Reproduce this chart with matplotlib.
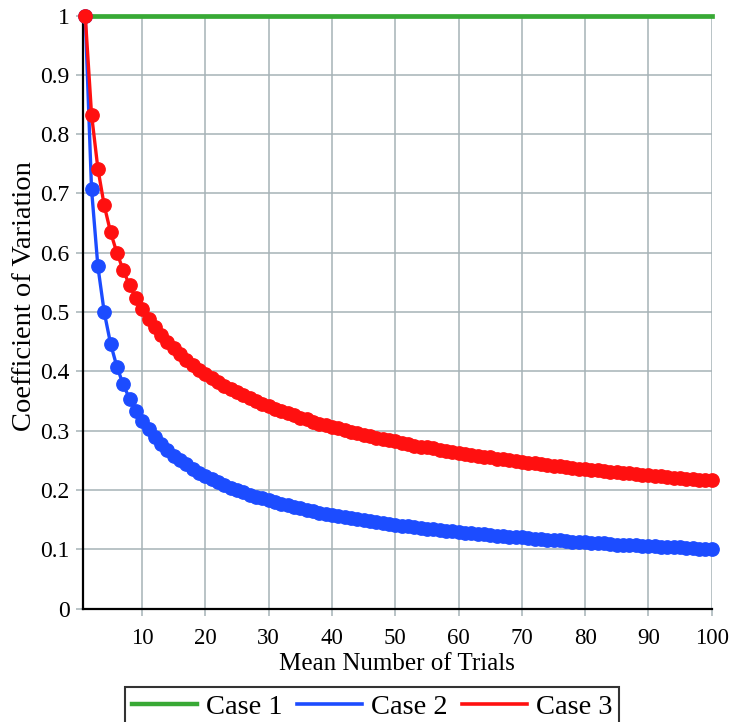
import numpy as np
import matplotlib.pyplot as plt

# ── Data ──────────────────────────────────────────────────────────────────
mean_trials = list(range(1, 101))

case1_cv = [1.0] * 100

case2_cv = [
    1.000, 0.707, 0.577, 0.500, 0.447, 0.408, 0.378, 0.354, 0.333, 0.316,
    0.302, 0.289, 0.277, 0.267, 0.258, 0.250, 0.243, 0.236, 0.229, 0.224,
    0.218, 0.213, 0.209, 0.204, 0.200, 0.196, 0.192, 0.189, 0.186, 0.183,
    0.180, 0.177, 0.174, 0.171, 0.169, 0.167, 0.164, 0.162, 0.160, 0.158,
    0.156, 0.154, 0.152, 0.151, 0.149, 0.147, 0.146, 0.144, 0.143, 0.141,
    0.140, 0.139, 0.137, 0.136, 0.135, 0.134, 0.132, 0.131, 0.130, 0.129,
    0.128, 0.127, 0.126, 0.125, 0.124, 0.123, 0.122, 0.121, 0.120, 0.120,
    0.119, 0.118, 0.117, 0.116, 0.115, 0.115, 0.114, 0.113, 0.113, 0.112,
    0.111, 0.110, 0.110, 0.109, 0.108, 0.108, 0.107, 0.107, 0.106, 0.105,
    0.105, 0.104, 0.104, 0.103, 0.103, 0.102, 0.102, 0.101, 0.101, 0.100,
]

case3_cv = [
    1.000, 0.833, 0.742, 0.680, 0.635, 0.600, 0.571, 0.545, 0.524, 0.506,
    0.489, 0.475, 0.462, 0.450, 0.439, 0.429, 0.420, 0.411, 0.403, 0.396,
    0.389, 0.382, 0.376, 0.370, 0.365, 0.360, 0.355, 0.350, 0.345, 0.341,
    0.337, 0.333, 0.329, 0.326, 0.322, 0.319, 0.315, 0.312, 0.309, 0.306,
    0.304, 0.301, 0.298, 0.296, 0.293, 0.291, 0.288, 0.286, 0.284, 0.282,
    0.279, 0.277, 0.275, 0.273, 0.272, 0.270, 0.268, 0.266, 0.264, 0.263,
    0.261, 0.259, 0.258, 0.256, 0.255, 0.253, 0.252, 0.250, 0.249, 0.248,
    0.246, 0.245, 0.244, 0.242, 0.241, 0.240, 0.239, 0.237, 0.236, 0.235,
    0.234, 0.233, 0.232, 0.231, 0.230, 0.229, 0.228, 0.227, 0.226, 0.225,
    0.224, 0.223, 0.222, 0.221, 0.220, 0.219, 0.218, 0.217, 0.216, 0.216,
]

series_labels = ["Case 1", "Case 2", "Case 3"]
x_ticks = [10, 20, 30, 40, 50, 60, 70, 80, 90, 100]
y_ticks = [0, 0.1, 0.2, 0.3, 0.4, 0.5, 0.6, 0.7, 0.8, 0.9, 1.0]

# ── Style ─────────────────────────────────────────────────────────────────
plt.rcParams["font.family"] = ["Liberation Serif", "DejaVu Serif"]
green = "#38a935"
blue = "#1c4cff"
red = "#ff1010"
grid_color = "#a6b3b7"

fig = plt.figure(figsize=(7.37, 7.22), dpi=100)
ax = fig.add_axes([0.1122, 0.1571, 0.8535, 0.8213])

ax.plot(mean_trials, case1_cv, color=green, lw=3.4, clip_on=False,
        label=series_labels[0], zorder=3)
ax.plot(mean_trials, case2_cv, color=blue, lw=2.4, marker="o", ms=9.6,
        clip_on=False, label=series_labels[1], zorder=4)
ax.plot(mean_trials, case3_cv, color=red, lw=2.4, marker="o", ms=9.6,
        clip_on=False, label=series_labels[2], zorder=5)

ax.set_xlim(0.6, 100)
ax.set_ylim(0, 1)
ax.set_xticks(x_ticks)
ax.set_yticks(y_ticks)
ax.set_yticklabels([f"{v:g}" for v in y_ticks])

ax.grid(True, color=grid_color, lw=1.1)
ax.set_axisbelow(True)
for side in ("top", "right"):
    ax.spines[side].set_visible(False)
for side in ("left", "bottom"):
    ax.spines[side].set_linewidth(1.6)
    ax.spines[side].set_color("black")

ax.tick_params(axis="both", direction="out", length=5, width=1.1, color=grid_color)
ax.tick_params(axis="x", labelsize=16.5, pad=9)
ax.tick_params(axis="y", labelsize=17, pad=4.5)

ax.set_xlabel("Mean Number of Trials", fontsize=18, labelpad=3)
ax.set_ylabel("Coefficient of Variation", fontsize=20.5)
ax.yaxis.set_label_coords(-0.073, 0.527)

# legend below the axes, partly cut off by the figure edge as in the source
leg = ax.legend(loc="upper center", bbox_to_anchor=(372 / 737, 1 - 687 / 722),
                bbox_transform=fig.transFigure, ncol=3, fontsize=20.5,
                frameon=True, fancybox=False, edgecolor="black",
                handlelength=2.3, handletextpad=0.3, columnspacing=0.5,
                borderpad=0.25, borderaxespad=0)
leg.get_frame().set_linewidth(1.5)
for h, w in zip(leg.get_lines(), [3.2, 2.6, 2.6]):
    h.set_marker("")
    h.set_linewidth(w)

fig.savefig("out.png", dpi=100)
